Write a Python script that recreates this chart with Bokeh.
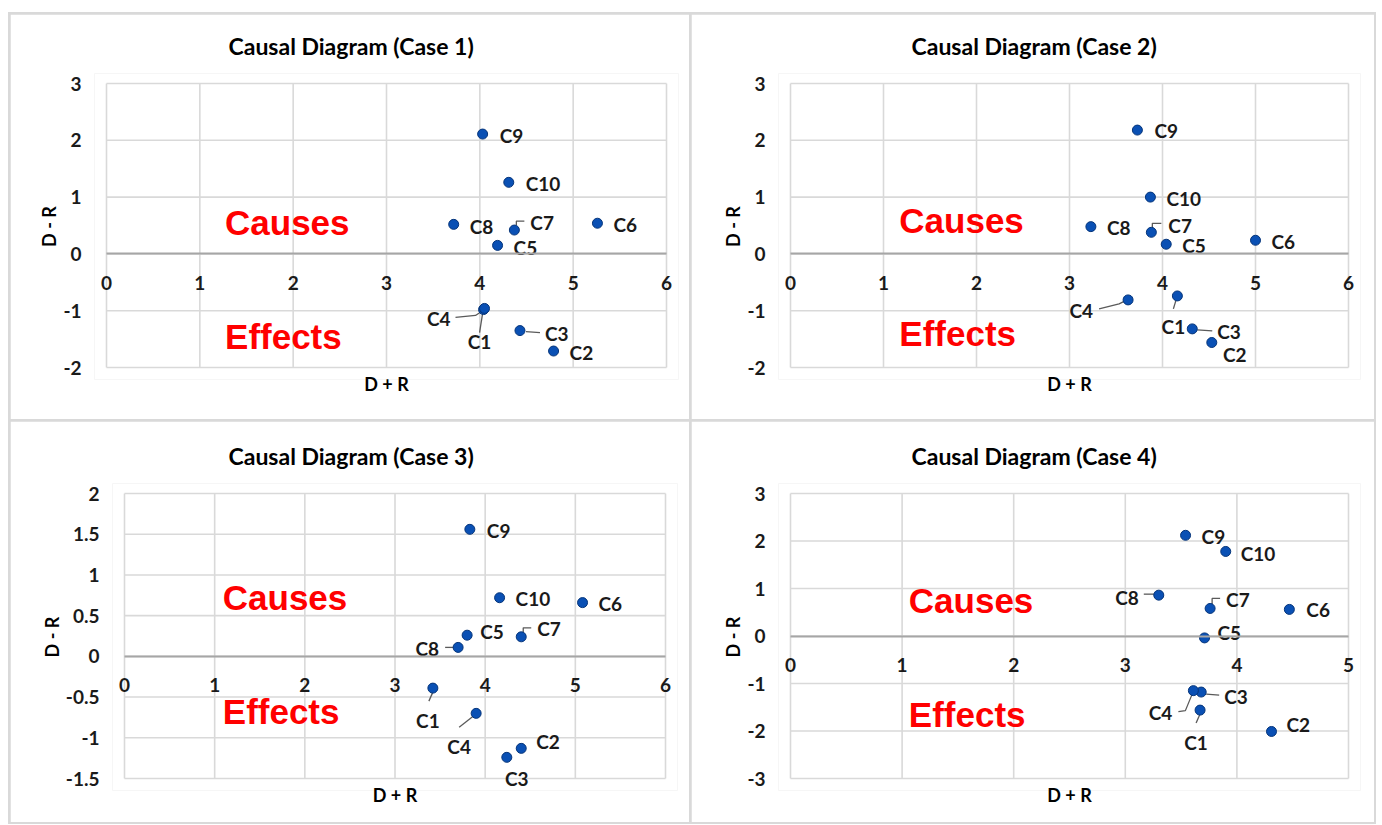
from bokeh.plotting import figure
from bokeh.models import (FixedTicker, CustomJSTickFormatter, Range1d, LinearAxis, ColumnDataSource)
from bokeh.layouts import row, column
from bokeh.core.properties import value
from bokeh.embed import file_html
from bokeh.resources import INLINE

factors = ["C1", "C2", "C3", "C4", "C5", "C6", "C7", "C8", "C9", "C10"]

case1_x = [4.04, 4.79, 4.43, 4.05, 4.19, 5.26, 4.37, 3.72, 4.03, 4.31]
case1_y = [-0.98, -1.71, -1.35, -0.96, 0.15, 0.54, 0.42, 0.52, 2.11, 1.26]

case2_x = [4.16, 4.53, 4.32, 3.63, 4.04, 5.00, 3.88, 3.23, 3.73, 3.87]
case2_y = [-0.74, -1.56, -1.32, -0.81, 0.17, 0.24, 0.38, 0.48, 2.18, 1.00]

case3_x = [3.42, 4.40, 4.24, 3.90, 3.80, 5.08, 4.40, 3.70, 3.83, 4.16]
case3_y = [-0.39, -1.13, -1.24, -0.70, 0.26, 0.66, 0.24, 0.11, 1.56, 0.72]

case4_x = [3.67, 4.31, 3.68, 3.61, 3.71, 4.47, 3.76, 3.30, 3.54, 3.90]
case4_y = [-1.56, -2.01, -1.18, -1.15, -0.04, 0.56, 0.58, 0.86, 2.12, 1.78]

titles = ["Causal Diagram (Case 1)", "Causal Diagram (Case 2)",
          "Causal Diagram (Case 3)", "Causal Diagram (Case 4)"]

x_ticks_6 = [0, 1, 2, 3, 4, 5, 6]
x_ticks_5 = [0, 1, 2, 3, 4, 5]
y_ticks_a = [-2, -1, 0, 1, 2, 3]
y_ticks_b = [-1.5, -1, -0.5, 0, 0.5, 1, 1.5, 2]
y_ticks_c = [-3, -2, -1, 0, 1, 2, 3]

# label placement (pixel offsets from point: dx, dy(down), align)
labels1 = {"C9": (17, 1, "left"), "C10": (17, 1, "left"), "C8": (16, 2, "left"),
           "C7": (16, -8, "left"), "C6": (16, 1, "left"), "C5": (16, 2, "left"),
           "C4": (-34, 10, "right"), "C1": (-4, 32, "center"), "C3": (25, 3, "left"),
           "C2": (16, 1, "left")}
leaders1 = {"C7": [(2, -5), (2, -9), (10, -9)],
            "C4": [(-29, 9), (-9, 7), (-3, 3)],
            "C1": [(-4, 23), (-1, 4)],
            "C3": [(6, 1), (20, 2)]}

labels2 = {"C9": (17, 0, "left"), "C10": (16, 1, "left"), "C8": (16, 1, "left"),
           "C7": (17, -7, "left"), "C5": (16, 1, "left"), "C6": (16, 1, "left"),
           "C4": (-35, 11, "right"), "C1": (-4, 31, "center"), "C3": (25, 3, "left"),
           "C2": (23, 12, "center")}
leaders2 = {"C7": [(1, -4), (1, -9), (10, -9)],
            "C4": [(-29, 9), (-9, 4), (-3, 1)],
            "C1": [(-4, 13), (-1, 3)],
            "C3": [(5, 1), (20, 2)]}

labels3 = {"C9": (17, 1, "left"), "C10": (16, 1, "left"), "C6": (16, 1, "left"),
           "C5": (13, -4, "left"), "C7": (16, -8, "left"), "C8": (-19, 1, "right"),
           "C1": (-5, 32, "center"), "C4": (-17, 33, "center"), "C2": (15, -7, "left"),
           "C3": (10, 21, "center")}
leaders3 = {"C7": [(2, -4), (2, -9), (10, -9)],
            "C8": [(-13, 0), (-4, 0)],
            "C1": [(-4, 13), (0, 4)],
            "C4": [(-17, 14), (-3, 3)]}

labels4 = {"C9": (16, 1, "left"), "C10": (15, 2, "left"), "C8": (-20, 2, "right"),
           "C7": (16, -9, "left"), "C6": (17, 0, "left"), "C5": (13, -5, "left"),
           "C4": (-21, 22, "right"), "C3": (23, 4, "left"), "C1": (-4, 32, "center"),
           "C2": (15, -7, "left")}
leaders4 = {"C8": [(-15, -1), (-4, -1)],
            "C7": [(2, -4), (2, -10), (10, -10)],
            "C4": [(-15, 21), (-8, 20), (-1, 3)],
            "C3": [(5, 2), (18, 3)],
            "C1": [(-4, 13), (0, 4)]}

FONT = "Lato"
GRID = "#d9d9d9"
PAD = 12     # frame padding (px) left/right/bottom so edge labels are not clipped
PAD_T = 10   # frame padding (px) above the plot area


def make_panel(title, xs, ys, xticks, yticks, labels, leaders, geom, causes_xy, effects_xy):
    vw, vh, left, right, top, bottom, title_left = geom
    x0, x1 = xticks[0], xticks[-1]
    y0, y1 = yticks[0], yticks[-1]
    ux = (x1 - x0) / vw
    uy = (y1 - y0) / vh
    fw = vw + 2 * PAD
    fh = vh + PAD + PAD_T
    p = figure(frame_width=fw, frame_height=fh, min_border_left=left, min_border_right=right,
               min_border_top=top - PAD_T, min_border_bottom=bottom,
               x_range=Range1d(x0 - PAD * ux, x1 + PAD * ux),
               y_range=Range1d(y0 - PAD * uy, y1 + PAD_T * uy),
               output_backend="svg", toolbar_location=None, tools="",
               background_fill_color="white", border_fill_color="white")
    p.outline_line_color = None
    p.xgrid.visible = False
    p.ygrid.visible = False

    p.title.text = title
    p.title.align = "left"
    p.title.offset = title_left
    p.title.text_font = FONT
    p.title.text_font_style = "bold"
    p.title.text_font_size = "23px"
    p.title.text_color = "#000000"
    p.title.standoff = 27

    fmt = CustomJSTickFormatter(code="return String(Math.round(tick*100)/100);")

    xa = p.xaxis[0]
    xa.ticker = FixedTicker(ticks=xticks)
    xa.formatter = fmt
    xa.fixed_location = 0
    xa.bounds = (x0, x1)
    xa.axis_line_color = "#a6a6a6"
    xa.axis_line_width = 1.8
    xa.major_tick_line_color = None
    xa.minor_tick_line_color = None
    xa.major_label_standoff = 16
    xa.major_label_text_font = FONT
    xa.major_label_text_font_style = "bold"
    xa.major_label_text_font_size = "19px"
    xa.major_label_text_color = "#1a1a1a"

    ya = p.yaxis[0]
    ya.ticker = FixedTicker(ticks=yticks)
    ya.formatter = fmt
    ya.axis_line_color = None
    ya.major_tick_line_color = None
    ya.minor_tick_line_color = None
    ya.major_label_standoff = 7
    ya.major_label_text_font = FONT
    ya.major_label_text_font_style = "bold"
    ya.major_label_text_font_size = "19px"
    ya.major_label_text_color = "#1a1a1a"
    ya.axis_label = "D - R"
    ya.axis_label_standoff = 0
    ya.axis_label_text_font = FONT
    ya.axis_label_text_font_style = "bold"
    ya.axis_label_text_font_size = "18px"
    ya.axis_label_text_color = "#000000"

    xlab = LinearAxis(ticker=FixedTicker(ticks=[]), axis_label="D + R",
                      axis_line_color=None, major_tick_line_color=None,
                      minor_tick_line_color=None, major_tick_out=0, major_label_standoff=0,
                      axis_label_standoff=-7, axis_label_text_font=FONT,
                      axis_label_text_font_style="bold", axis_label_text_font_size="18px",
                      axis_label_text_color="#000000")
    p.add_layout(xlab, "below")

    # gridlines of the plot area (including its border)
    p.segment(x0=xticks, y0=[y0] * len(xticks), x1=xticks, y1=[y1] * len(xticks),
              line_color=GRID, line_width=1.6)
    p.segment(x0=[x0] * len(yticks), y0=yticks, x1=[x1] * len(yticks), y1=yticks,
              line_color=GRID, line_width=1.6)

    idx = {n: i for i, n in enumerate(factors)}
    lx, ly = [], []
    for name, pts in leaders.items():
        i = idx[name]
        lx.append([xs[i] + dx * ux for dx, dy in pts])
        ly.append([ys[i] - dy * uy for dx, dy in pts])
    if lx:
        p.multi_line(lx, ly, line_color="#5a5a5a", line_width=1.3)

    p.scatter(xs, ys, size=10, fill_color="#0a50b4", line_color="#06357a", line_width=1)

    src = ColumnDataSource(dict(
        x=xs, y=ys, t=factors,
        dx=[labels[n][0] for n in factors],
        dy=[labels[n][1] for n in factors],
        al=[labels[n][2] for n in factors],
    ))
    p.text("x", "y", text="t", x_offset="dx", y_offset="dy", text_align="al",
           text_baseline="middle", text_font=value(FONT), text_font_style="bold",
           text_font_size="19px", text_color="#1a1a1a", source=src)

    p.text([causes_xy[0], effects_xy[0]], [causes_xy[1], effects_xy[1]],
           text=["Causes", "Effects"], text_align="left", text_baseline="middle",
           text_font=value("Liberation Sans"), text_font_style="bold",
           text_font_size="35px", text_color="#ff0000")
    return p


# geom: plot-area width, height, border left, right, top, bottom, title offset
p1 = make_panel(titles[0], case1_x, case1_y, x_ticks_6, y_ticks_a, labels1, leaders1,
                (560, 284, 84, 11, 69, 40, 134), (1.27, 0.55), (1.27, -1.45))
p2 = make_panel(titles[1], case2_x, case2_y, x_ticks_6, y_ticks_a, labels2, leaders2,
                (558, 284, 87, 14, 69, 40, 133), (1.17, 0.59), (1.17, -1.41))
p3 = make_panel(titles[2], case3_x, case3_y, x_ticks_6, y_ticks_b, labels3, leaders3,
                (541, 285, 102, 12, 72, 32, 116), (1.09, 0.72), (1.09, -0.68))
p4 = make_panel(titles[3], case4_x, case4_y, x_ticks_5, y_ticks_c, labels4, leaders4,
                (558, 285, 87, 14, 72, 32, 133), (1.06, 0.74), (1.06, -1.65))

layout = column(row(p1, p2, spacing=2), row(p3, p4, spacing=2), spacing=2,
                margin=(12, 0, 0, 8),
                styles={"background-color": "#d9d9d9", "padding": "2px"})

open("out.html", "w").write(file_html(layout, INLINE))
